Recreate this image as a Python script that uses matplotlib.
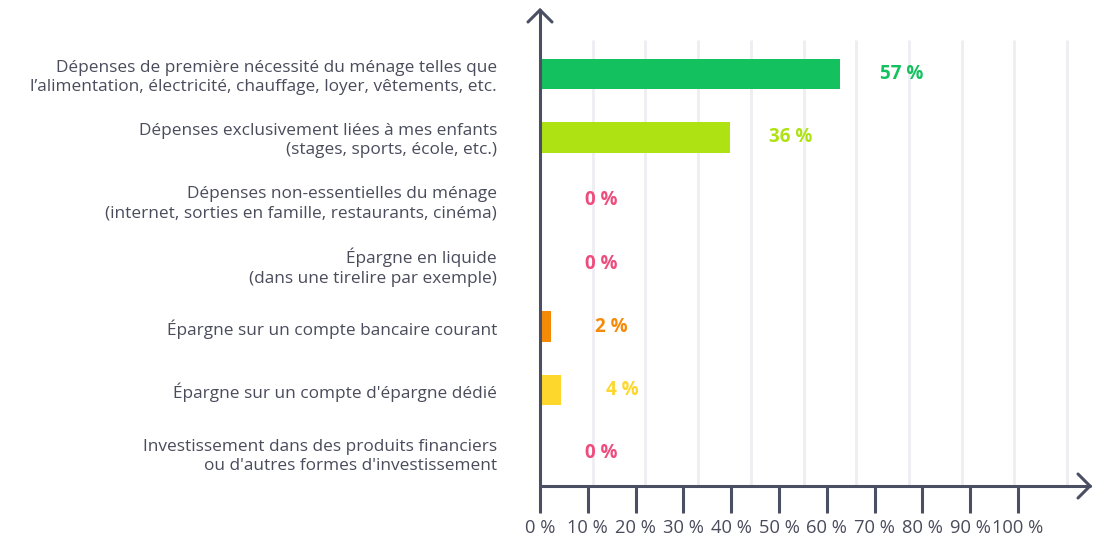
import matplotlib
matplotlib.use("Agg")
import matplotlib.pyplot as plt
from matplotlib.lines import Line2D

categories = [
    "Dépenses de première nécessité du ménage telles que\nl’alimentation, électricité, chauffage, loyer, vêtements, etc.",
    "Dépenses exclusivement liées à mes enfants\n(stages, sports, école, etc.)",
    "Dépenses non-essentielles du ménage\n(internet, sorties en famille, restaurants, cinéma)",
    "Épargne en liquide\n(dans une tirelire par exemple)",
    "Épargne sur un compte bancaire courant",
    "Épargne sur un compte d'épargne dédié",
    "Investissement dans des produits financiers\nou d'autres formes d'investissement",
]
values = [57, 36, 0, 0, 2, 4, 0]
value_labels = ["57 %", "36 %", "0 %", "0 %", "2 %", "4 %", "0 %"]
bar_colors = ["#13c15e", "#aee212", "#ee4c7c", "#ee4c7c", "#f58a07", "#fdd72b", "#ee4c7c"]
tick_values = [0, 10, 20, 30, 40, 50, 60, 70, 80, 90, 100]
tick_labels = [f"{v} %" for v in tick_values]

FONT = "Open Sans"
AXC = "#4b4f63"
TXT = "#4a4c5c"

W, H = 1093, 539
fig = plt.figure(figsize=(W / 100, H / 100), dpi=100)
fig.patch.set_facecolor("white")

x0, x1, ytop, ybot = 540, 1090, 10, 486
ax = fig.add_axes([x0 / W, (H - ybot) / H, (x1 - x0) / W, (ybot - ytop) / H])
px_per_unit = 5.27
row0, row_step = 74, 63.2
ax.set_xlim(0, (x1 - x0) / px_per_unit)
ax.set_ylim((ybot - row0) / row_step, (ytop - row0) / row_step)

# grid lines
grid_top = (40 - row0) / row_step
ax.vlines(tick_values[1:], grid_top, (ybot - row0) / row_step, color="#eeeef2", lw=2, zorder=0)

ypos = list(range(len(categories)))
ax.barh(ypos, values, height=0.49, color=bar_colors, zorder=2)

for y, v, lab, c in zip(ypos, values, value_labels, bar_colors):
    ax.annotate(lab, (v, y), xytext=(44, 0), textcoords="offset points",
                ha="center", va="center", color=c, fontsize=13.5,
                fontweight="bold", family=FONT)

for s in ["top", "right"]:
    ax.spines[s].set_visible(False)
for s in ["left", "bottom"]:
    ax.spines[s].set_color(AXC)
    ax.spines[s].set_linewidth(2.2)
    ax.spines[s].set_capstyle("round")

ax.set_yticks(ypos)
ax.set_yticklabels(categories, fontsize=12.4, color=TXT, family=FONT, linespacing=1.27)
ax.tick_params(axis="y", length=0, pad=31)

tick_scale = 0.907
ax.set_xticks([v * tick_scale for v in tick_values])
ax.set_xticklabels(tick_labels, fontsize=13.2, color=TXT, family=FONT)
ax.tick_params(axis="x", length=19.5, width=2.2, color=AXC, pad=4, direction="out")
ax.set_facecolor("none")

# arrow heads
def fx(p):
    return p / W
def fy(p):
    return 1 - p / H
fig.add_artist(Line2D([fx(528), fx(540), fx(552)], [fy(22), fy(10), fy(22)],
                      color=AXC, lw=2.2, solid_capstyle="round", solid_joinstyle="miter"))
fig.add_artist(Line2D([fx(1078), fx(1090), fx(1078)], [fy(474), fy(486), fy(498)],
                      color=AXC, lw=2.2, solid_capstyle="round", solid_joinstyle="miter"))

fig.savefig("out.png", dpi=100)
